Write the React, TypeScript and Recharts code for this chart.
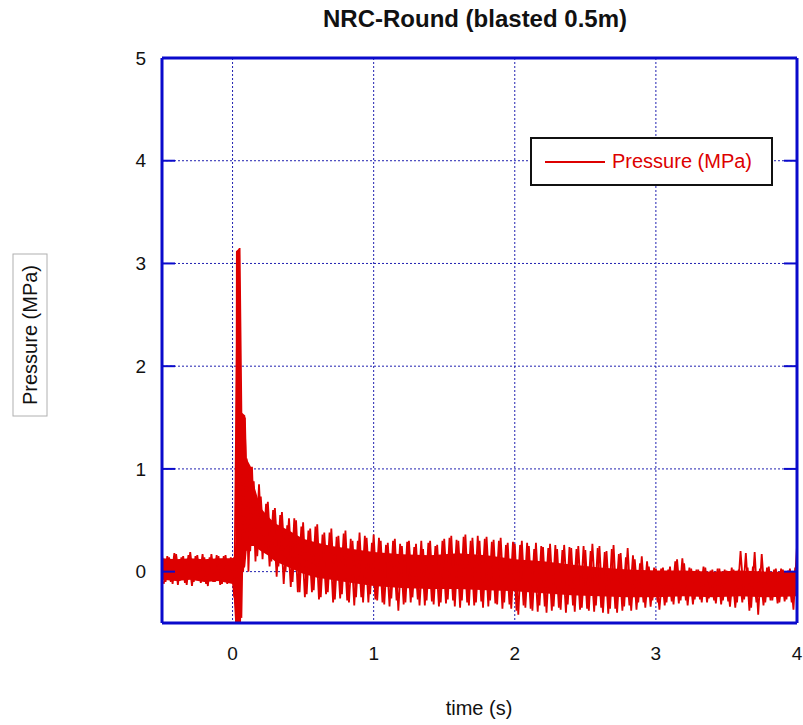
import { ComposedChart, Line, Area, XAxis, YAxis, CartesianGrid } from 'recharts';

const BLUE = '#0a0acc';
const RED = '#dd0000';
const FONT = '"Liberation Sans", Arial, sans-serif';

const xTicks = [0, 1, 2, 3, 4];
const yTicks = [0, 1, 2, 3, 4, 5];
const innerXTicks = [0, 1, 2, 3];
const innerYTicks = [0, 1, 2, 3, 4];

// dense part of the trace (solid red band)
const coreTime = [
  -0.5, -0.4, -0.3, -0.2, -0.1, 0, 0.015, 0.02, 0.024, 0.05, 0.056, 0.06, 0.065, 0.09, 0.1,
  0.13, 0.15, 0.2, 0.25, 0.3, 0.4, 0.5, 0.6, 0.7, 0.8, 0.9, 1.0, 1.2, 1.4, 1.6,
  1.8, 2.0, 2.2, 2.4, 2.6, 2.8, 3.0, 3.2, 3.4, 3.6, 3.8, 4.0,
];
const coreLow = [
  -0.08, -0.09, -0.08, -0.1, -0.09, -0.12, -0.28, -0.5, -0.5, -0.5, -0.5, -0.5, 0.0, 0.05, 0.2,
  0.25, 0.25, 0.2, 0.16, 0.1, 0.04, -0.02, -0.06, -0.08, -0.1, -0.12, -0.14, -0.16, -0.17, -0.17,
  -0.18, -0.19, -0.21, -0.23, -0.24, -0.25, -0.25, -0.24, -0.25, -0.24, -0.25, -0.24,
];
const coreHigh = [
  0.13, 0.12, 0.13, 0.12, 0.13, 0.13, 0.15, 0.3, 3.12, 3.15, 2.55, 1.55, 1.55, 1.52, 1.1,
  1.02, 0.85, 0.62, 0.54, 0.47, 0.4, 0.32, 0.28, 0.25, 0.23, 0.21, 0.19, 0.17, 0.16, 0.18,
  0.16, 0.12, 0.1, 0.07, 0.04, 0.02, 0.01, 0.01, 0.0, 0.01, 0.0, 0.0,
];

// spiky trace A, sampled every 0.025 s from -0.5 s
const sampleStart = -0.5;
const sampleStep = 0.025;
const pressure = [
  0.16, -0.1, 0.14, -0.12, 0.17, -0.09, 0.15, -0.13, 0.19, -0.1,
  0.16, -0.11, 0.14, -0.14, 0.17, -0.1, 0.15, -0.12, 0.16, -0.11,
  0.13, -0.5, 3.15, 0.0, 1.1, 0.2, 0.88, 0.15, 0.73, 0.2,
  0.68, 0.1, 0.62, 0.05, 0.58, 0.0, 0.52, -0.1, 0.5, -0.2,
  0.48, -0.22, 0.42, -0.18, 0.46, -0.25, 0.38, -0.2, 0.42, -0.27,
  0.35, -0.22, 0.4, -0.3, 0.3, -0.25, 0.38, -0.3, 0.33, -0.22,
  0.36, -0.28, 0.3, -0.32, 0.28, -0.26, 0.32, -0.38, 0.25, -0.3,
  0.3, -0.25, 0.27, -0.33, 0.22, -0.28, 0.3, -0.32, 0.26, -0.3,
  0.32, -0.27, 0.35, -0.34, 0.3, -0.28, 0.36, -0.33, 0.33, -0.3,
  0.3, -0.35, 0.34, -0.28, 0.31, -0.32, 0.33, -0.3, 0.28, -0.36,
  0.27, -0.42, 0.3, -0.35, 0.25, -0.38, 0.28, -0.33, 0.24, -0.4,
  0.27, -0.34, 0.22, -0.37, 0.26, -0.32, 0.23, -0.39, 0.25, -0.35,
  0.21, -0.38, 0.27, -0.33, 0.25, -0.4, 0.2, -0.36, 0.26, -0.4,
  0.18, -0.34, 0.23, -0.38, 0.12, -0.3, 0.15, -0.35, 0.05, -0.28,
  0.03, -0.37, 0.04, -0.3, 0.05, -0.32, 0.12, -0.28, 0.08, -0.33,
  0.03, -0.27, 0.02, -0.3, 0.04, -0.26, 0.02, -0.31, 0.03, -0.28,
  0.01, -0.34, 0.02, -0.3, 0.2, -0.27, 0.04, -0.35, 0.19, -0.42,
  0.17, -0.3, 0.05, -0.28, 0.03, -0.3, 0.02, -0.27, 0.03, -0.37,
  0.25,
];

// spiky trace B, same step, starting half a step later
const sampleStartB = -0.4875;
const pressureB = [
  -0.12, 0.15, -0.1, 0.18, -0.13, 0.14, -0.11, 0.16, -0.14, 0.15,
  -0.09, 0.17, -0.12, 0.14, -0.1, 0.16, -0.13, 0.15, -0.12, 0.14,
  -0.25, 3.1, -0.45, 1.5, 0.0, 1.02, 0.1, 0.85, 0.12, 0.66,
  0.05, 0.6, -0.05, 0.55, -0.12, 0.45, -0.15, 0.52, -0.2, 0.44,
  -0.25, 0.4, -0.2, 0.44, -0.27, 0.36, -0.22, 0.38, -0.3, 0.34,
  -0.26, 0.37, -0.28, 0.32, -0.33, 0.3, -0.25, 0.35, -0.3, 0.28,
  -0.27, 0.33, -0.3, 0.26, -0.34, 0.3, -0.28, 0.27, -0.32, 0.29,
  -0.3, 0.24, -0.27, 0.3, -0.33, 0.28, -0.29, 0.25, -0.34, 0.3,
  -0.31, 0.33, -0.28, 0.31, -0.35, 0.34, -0.3, 0.3, -0.33, 0.35,
  -0.29, 0.32, -0.34, 0.29, -0.31, 0.3, -0.36, 0.26, -0.32, 0.29,
  -0.38, 0.26, -0.33, 0.28, -0.36, 0.22, -0.39, 0.25, -0.34, 0.23,
  -0.38, 0.26, -0.35, 0.21, -0.4, 0.24, -0.33, 0.22, -0.37, 0.25,
  -0.36, 0.2, -0.39, 0.23, -0.35, 0.19, -0.41, 0.22, -0.36, 0.17,
  -0.38, 0.14, -0.33, 0.16, -0.37, 0.08, -0.3, 0.1, -0.34, 0.04,
  -0.3, 0.03, -0.33, 0.02, -0.29, 0.1, -0.31, 0.13, -0.28, 0.04,
  -0.32, 0.02, -0.27, 0.05, -0.3, 0.01, -0.28, 0.03, -0.32, 0.02,
  -0.29, 0.04, -0.35, 0.02, -0.3, 0.18, -0.38, 0.05, -0.3, 0.03,
  -0.33, 0.04, -0.28, 0.02, -0.31, 0.03, -0.29, 0.01, -0.3, 0.04,
];

const coreData = coreTime.map((t, i) => ({ t, band: [coreLow[i], coreHigh[i]] }));
const traceData = pressure.map((v, i) => ({ t: +(sampleStart + i * sampleStep).toFixed(4), v }));
const traceDataB = pressureB.map((v, i) => ({ t: +(sampleStartB + i * sampleStep).toFixed(4), v }));

const tickText = { fill: '#111', fontSize: 19, fontFamily: FONT };
const innerTick = { stroke: BLUE, strokeWidth: 2 };
const frameLine = { stroke: BLUE, strokeWidth: 3 };
const noLabel = () => <g />;

const YLabel = () => (
  <g>
    <rect x={13} y={254} width={34} height={162} fill="#fff" stroke="#b0b0b0" strokeWidth={1} />
    <text
      x={30}
      y={335}
      transform="rotate(-90 30 335)"
      textAnchor="middle"
      dominantBaseline="central"
      fontSize={20}
      fontFamily={FONT}
      fill="#111"
    >
      Pressure (MPa)
    </text>
  </g>
);

const XLabel = () => (
  <text x={479} y={715} textAnchor="middle" fontSize={20} fontFamily={FONT} fill="#111">
    time (s)
  </text>
);

export default function App() {
  return (
    <div style={{ position: 'absolute', left: 0, top: 0, width: 803, height: 725, background: '#fff', fontFamily: FONT }}>
      <div
        style={{
          position: 'absolute', left: 275, top: 5, width: 400, textAlign: 'center',
          fontSize: 24, fontWeight: 'bold', color: '#111', zIndex: 2,
        }}
      >
        NRC-Round (blasted 0.5m)
      </div>

      <ComposedChart width={803} height={725} margin={{ top: 58, right: 6, bottom: 62, left: 122 }}>
        <CartesianGrid stroke="#2020b0" strokeDasharray="2 2" strokeWidth={1} />
        <Area
          data={coreData}
          dataKey="band"
          type="linear"
          stroke="none"
          fill={RED}
          fillOpacity={1}
          isAnimationActive={false}
          dot={false}
          activeDot={false}
        />
        <Line
          data={traceData}
          dataKey="v"
          type="linear"
          stroke={RED}
          strokeWidth={1.8}
          dot={false}
          activeDot={false}
          isAnimationActive={false}
        />
        <Line
          data={traceDataB}
          dataKey="v"
          type="linear"
          stroke={RED}
          strokeWidth={1.8}
          dot={false}
          activeDot={false}
          isAnimationActive={false}
        />
        <XAxis
          dataKey="t"
          type="number"
          domain={[-0.5, 4]}
          ticks={xTicks}
          allowDataOverflow
          height={40}
          axisLine={frameLine}
          tickLine={false}
          tickSize={0}
          tickMargin={24}
          tick={tickText}
          label={{ content: <XLabel /> }}
        />
        <XAxis xAxisId="bottomIn" type="number" domain={[-0.5, 4]} ticks={innerXTicks} allowDataOverflow
          orientation="bottom" mirror axisLine={false} tick={noLabel} tickLine={innerTick} tickSize={12} />
        <XAxis xAxisId="top" type="number" domain={[-0.5, 4]} ticks={innerXTicks} allowDataOverflow
          orientation="top" mirror axisLine={frameLine} tick={noLabel} tickLine={innerTick} tickSize={12} />
        <YAxis
          type="number"
          domain={[-0.5, 5]}
          ticks={yTicks}
          allowDataOverflow
          width={40}
          axisLine={frameLine}
          tickLine={false}
          tickSize={0}
          tickMargin={16}
          tick={tickText}
          label={{ content: <YLabel /> }}
        />
        <YAxis yAxisId="leftIn" type="number" domain={[-0.5, 5]} ticks={innerYTicks} allowDataOverflow
          orientation="left" mirror axisLine={false} tick={noLabel} tickLine={innerTick} tickSize={13} />
        <YAxis yAxisId="right" type="number" domain={[-0.5, 5]} ticks={innerYTicks} allowDataOverflow
          orientation="right" mirror axisLine={frameLine} tick={noLabel} tickLine={innerTick} tickSize={13} />
      </ComposedChart>

      <div
        style={{
          position: 'absolute', left: 530, top: 137, width: 239, height: 45,
          border: '2px solid #111', background: '#fff', display: 'flex', alignItems: 'center',
        }}
      >
        <div style={{ width: 60, height: 2, background: RED, marginLeft: 13 }} />
        <span style={{ marginLeft: 7, color: RED, fontSize: 20 }}>Pressure (MPa)</span>
      </div>
    </div>
  );
}
